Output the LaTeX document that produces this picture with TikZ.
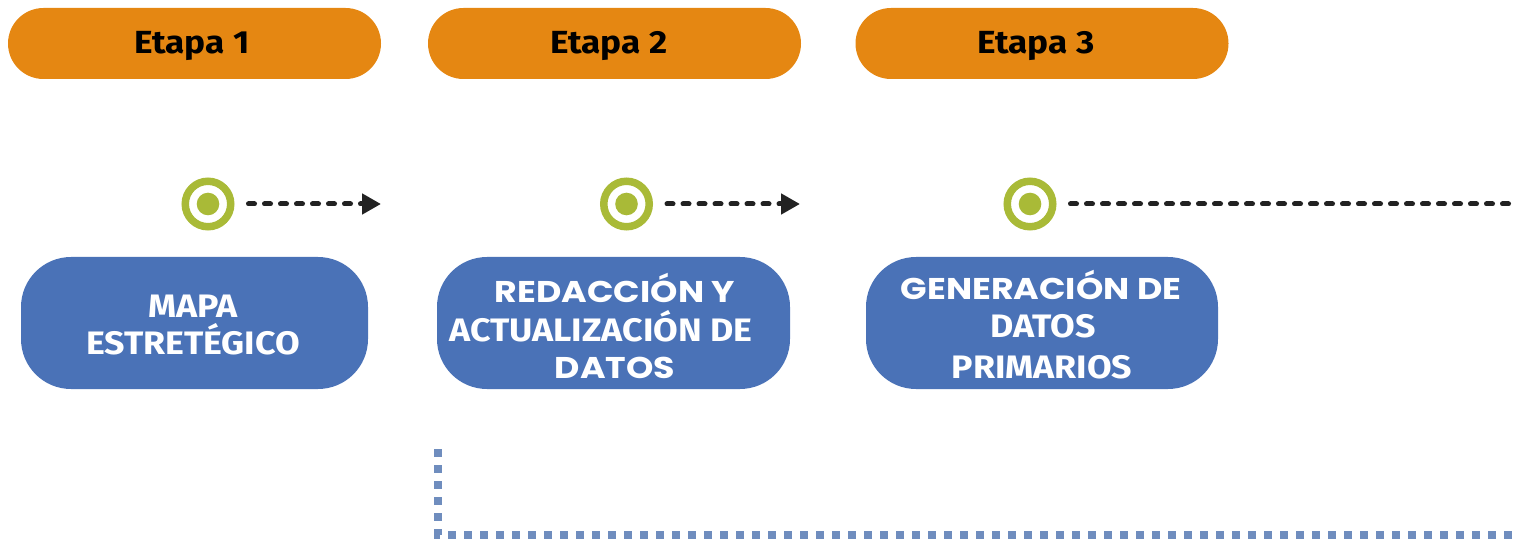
\documentclass[tikz,border=0pt]{standalone}
\usepackage{fontspec}
\setmainfont{Fira Sans}
\newfontfamily\plexfont{Fira Sans}[FakeStretch=1.1]
\newfontfamily\montfont{Poppins}[FakeStretch=1.16]
\usetikzlibrary{arrows.meta}
\definecolor{etapa}{HTML}{E58712}
\definecolor{caja}{HTML}{4A72B7}
\definecolor{verde}{HTML}{A9BA37}
\definecolor{punteo}{HTML}{6F8DBE}
\definecolor{flecha}{HTML}{222222}
\tikzset{
  etapabox/.style={fill=etapa, rounded corners=35.5pt, minimum width=373pt, minimum height=71pt, inner sep=0pt},
  etapatxt/.style={anchor=base, inner sep=0pt, text=black, font=\plexfont\bfseries\fontsize{32pt}{36pt}\selectfont},
  cajabox/.style={fill=caja, rounded corners=50pt, minimum height=132pt, inner sep=0pt},
  plextxt/.style={anchor=base, inner sep=0pt, text=white, font=\plexfont\bfseries\fontsize{32.5pt}{36pt}\selectfont},
  monttxt/.style={anchor=base, inner sep=0pt, text=white, font=\montfont\bfseries\fontsize{30pt}{34pt}\selectfont},
  target/.style={circle, draw=verde, line width=7.5pt, fill=white, minimum size=45.5pt, inner sep=0pt},
  dasharrow/.style={draw=flecha, line width=5pt, dash pattern=on 6pt off 10pt, line cap=round, shorten <=14pt},
  headtip/.style={-{Triangle[length=19pt,width=20pt]}},
  dotline/.style={draw=punteo, line width=8pt, dash pattern=on 8pt off 8pt}
}
\begin{document}
\begin{tikzpicture}[x=1pt, y=-1pt]
\clip (0,0) rectangle (1516,540);
% stage headers
\node[etapabox] (e1) at (194.5,43.5) {};
\node[etapabox] (e2) at (614.5,43.5) {};
\node[etapabox] (e3) at (1042,43.5) {};
\node[etapatxt] (e1t) at (192,54) {Etapa 1};
\node[etapatxt] (e2t) at (609,54) {Etapa 2};
\node[etapatxt] (e3t) at (1036,54) {Etapa 3};
% targets
\node[target] (c1) at (208,204) {};
\node[target] (c2) at (626.5,204) {};
\node[target] (c3) at (1030,204) {};
\fill[verde] (c1.center) circle (11.3pt);
\fill[verde] (c2.center) circle (11.3pt);
\fill[verde] (c3.center) circle (11.3pt);
\coordinate (a1) at (381,204);
\coordinate (a2) at (800,204);
\coordinate (a3) at (1530,204);
\draw[dasharrow, headtip] (c1.east) -- (a1);
\draw[dasharrow, headtip] (c2.east) -- (a2);
\draw[dasharrow] (c3.east) -- (a3);
% boxes
\node[cajabox, minimum width=347pt] (b1) at (194.5,323) {};
\node[cajabox, minimum width=353pt] (b2) at (613.5,323) {};
\node[cajabox, minimum width=352pt] (b3) at (1042,323) {};
\node[plextxt] (b1l1) at (193,317) {MAPA};
\node[plextxt] (b1l2) at (193,354) {ESTRETÉGICO};
\node[monttxt] (b2l1) at (615,302) {REDACCIÓN Y};
\node[plextxt] (b2l2) at (601,341) {ACTUALIZACIÓN DE};
\node[monttxt] (b2l3) at (615,378) {DATOS};
\node[monttxt] (b3l1) at (1041,299) {GENERACIÓN DE};
\node[plextxt] (b3l2) at (1043,337) {DATOS};
\node[plextxt] (b3l3) at (1042,378) {PRIMARIOS};
% dotted line
\coordinate (d0) at (438,449);
\coordinate (d1) at (438,535);
\coordinate (d2) at (1520,535);
\draw[dotline] (d0) -- (d1) -- (d2);
\end{tikzpicture}
\end{document}
